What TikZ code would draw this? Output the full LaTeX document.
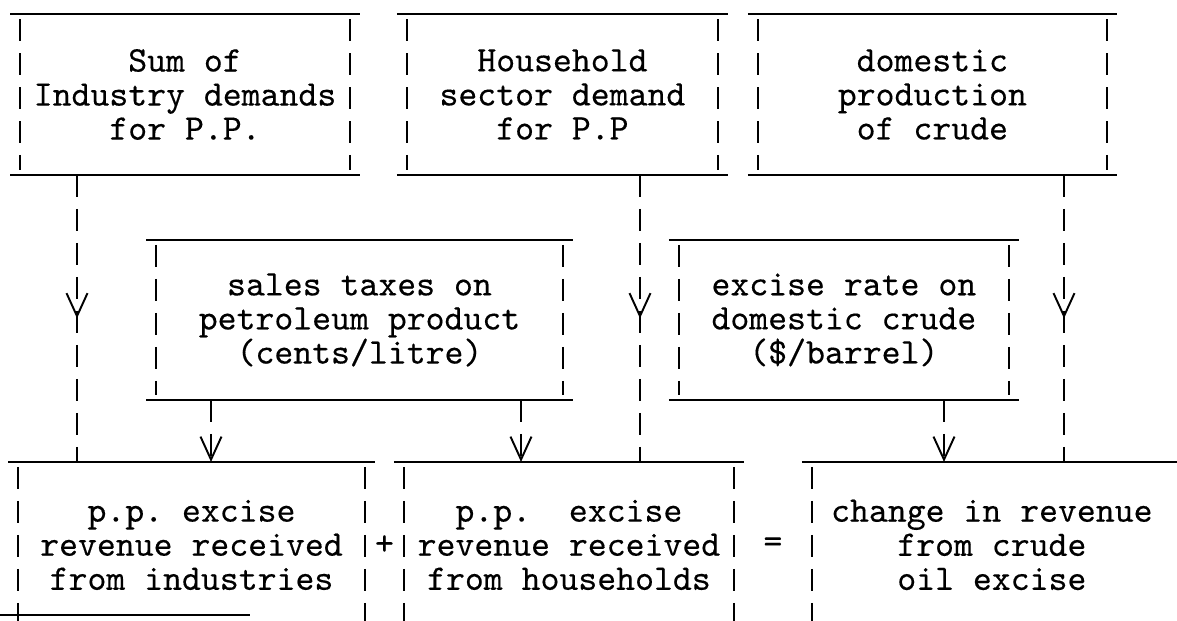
\documentclass[tikz,border=0pt]{standalone}
\usepackage{fontspec}
\newfontfamily\tyfam{lmmono10-regular.otf}[FakeBold=0.3]
\usepackage{tikz}
\usetikzlibrary{positioning, calc, arrows.meta, decorations.markings}
\newcommand\tyfont{\tyfam\fontsize{20.5}{19.4}\selectfont\frenchspacing}
\tikzstyle{tbox} = [rectangle, inner sep=0pt, outer sep=0pt, align=center, font=\tyfont]
\tikzstyle{hline} = [line width=1.1pt]
\tikzstyle{vside} = [line width=0.9pt, dash pattern=on 0.44cm off 0.24cm]
\tikzstyle{conn} = [line width=0.9pt, dash pattern=on 0.44cm off 0.24cm]
\tikzstyle{vtip} = [-{Straight Barb[length=0.46cm, width=0.42cm, line width=1.1pt]}]
\tikzstyle{midv} = [postaction={decorate}, decoration={markings, mark=at position 0.5 with {\arrow{Straight Barb[length=0.46cm, width=0.42cm, line width=1.1pt]}}}]
% top and bottom rule, dashed sides
\newcommand\tframe[1]{%
  \draw[hline] (#1.north west) -- (#1.north east);
  \draw[hline] (#1.south west) -- (#1.south east);
  \draw[vside] ([shift={(0.2cm,-0.1cm)}]#1.north west) -- ([shift={(0.2cm,0.1cm)}]#1.south west);
  \draw[vside] ([shift={(-0.2cm,-0.1cm)}]#1.north east) -- ([shift={(-0.2cm,0.1cm)}]#1.south east);
}

\begin{document}
\begin{tikzpicture}[x=0.02cm, y=-0.02cm]
    \useasboundingbox (0,0) rectangle (1177,620);
    % inputs
    \node (ind) [tbox, minimum width=7cm, minimum height=3.22cm] at (185,94.5) {Sum of\\Industry demands\\for P.P.};
    \node (hh) [tbox, minimum width=6.62cm, minimum height=3.22cm, right=0.74cm of ind] {Household\\sector demand\\for P.P};
    \node (crude) [tbox, minimum width=7.38cm, minimum height=3.22cm, right=0.4cm of hh] {domestic\\production\\of crude};
    \node (sales) [tbox, minimum width=8.54cm, minimum height=3.2cm, below=1.3cm of ind, xshift=3.49cm] {sales taxes on\\petroleum product\\(cents/litre)};
    \node (excise) [tbox, minimum width=7cm, minimum height=3.2cm, right=1.92cm of sales] {excise rate on\\domestic crude\\(\$/barrel)};
    % revenues
    \node (ppind) [tbox, minimum width=7.34cm, minimum height=3.32cm, below=1.24cm of sales, xshift=-3.36cm] {p.p. excise\\revenue received\\from industries};
    \node (pphh) [tbox, minimum width=7cm, minimum height=3.32cm, right=0.38cm of ppind] {p.p.\ \ excise\\revenue received\\from households};
    \node (chg) [tbox, minimum width=7.6cm, minimum height=3.32cm, right=1.16cm of pphh] {change in revenue\\from crude\\oil excise};
    \node (plus) [tbox] at ($(ppind.east)!0.5!(pphh.west)$) {+};
    \node (eq) [tbox] at ($(pphh.east)!0.5!(chg.west)$) {=};

    % frames
    \tframe{ind}
    \tframe{hh}
    \tframe{crude}
    \tframe{sales}
    \tframe{excise}
    \draw[hline] (ppind.north west) -- (ppind.north east);
    \draw[hline] (pphh.north west) -- (pphh.north east);
    \draw[hline] (chg.north west) -- (chg.north east);
    \draw[vside] ([shift={(0.2cm,-0.1cm)}]ppind.north west) -- ([xshift=0.2cm]ppind.south west);
    \draw[vside] ([shift={(-0.2cm,-0.1cm)}]ppind.north east) -- ([xshift=-0.2cm]ppind.south east);
    \draw[vside] ([shift={(0.2cm,-0.1cm)}]pphh.north west) -- ([xshift=0.2cm]pphh.south west);
    \draw[vside] ([shift={(-0.2cm,-0.1cm)}]pphh.north east) -- ([xshift=-0.2cm]pphh.south east);
    \draw[vside] ([shift={(0.2cm,-0.1cm)}]chg.north west) -- ([xshift=0.2cm]chg.south west);
    \draw[hline] (0,615) -- (250,615);

    % connectors
    \coordinate (c1) at (77,0);
    \coordinate (c2) at (640,0);
    \coordinate (c3) at (1064,0);
    \coordinate (c4) at (211,0);
    \coordinate (c5) at (521,0);
    \coordinate (c6) at (944,0);
    \draw[conn, midv] (ind.south -| c1) -- (ppind.north -| c1);
    \draw[conn, midv] (hh.south -| c2) -- (pphh.north -| c2);
    \draw[conn, midv] (crude.south -| c3) -- (chg.north -| c3);
    \draw[conn, vtip] (sales.south -| c4) -- (ppind.north -| c4);
    \draw[conn, vtip] (sales.south -| c5) -- (pphh.north -| c5);
    \draw[conn, vtip] (excise.south -| c6) -- (chg.north -| c6);
\end{tikzpicture}
\end{document}
